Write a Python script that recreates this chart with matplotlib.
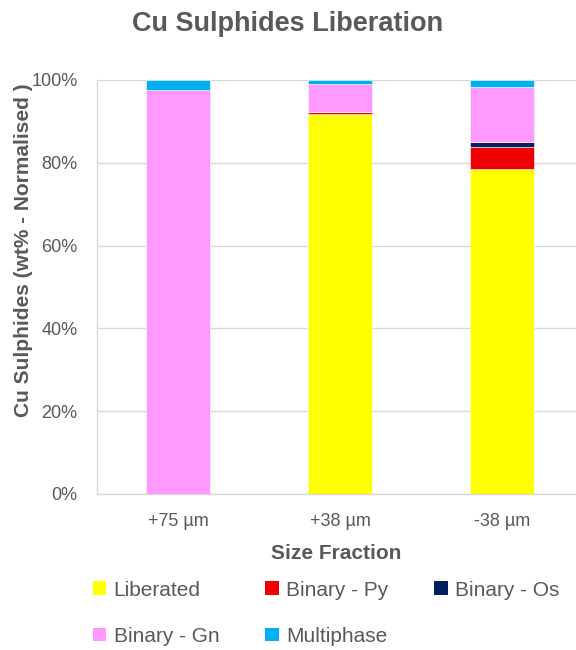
import numpy as np
import matplotlib.pyplot as plt
from matplotlib.patches import Patch

plt.rcParams['font.family'] = ['Liberation Sans', 'DejaVu Sans']

# data (wt% normalised)
fractions = ['+75 µm', '+38 µm', '-38 µm']
liberated = [0.0, 91.7, 78.5]
binary_py = [0.0, 0.5, 5.4]
binary_os = [0.0, 0.0, 1.2]
binary_gn = [97.6, 6.8, 13.3]
multiphase = [2.4, 1.0, 1.6]

series = [('Liberated', liberated, '#FFFF00'),
          ('Binary - Py', binary_py, '#EE0000'),
          ('Binary - Os', binary_os, '#002060'),
          ('Binary - Gn', binary_gn, '#FF99FF'),
          ('Multiphase', multiphase, '#00B0F0')]

grey = '#595959'
fig = plt.figure(figsize=(5.76, 6.5), dpi=100)
ax = fig.add_axes([97/576, 1-494/650, 1-97/576, (494-80)/650])

x = np.arange(len(fractions))
bottom = np.zeros(len(fractions))
for name, vals, col in series:
    vals = np.array(vals)
    ax.bar(x, vals, 0.4, bottom=bottom, color=col, edgecolor='white', linewidth=0.4, zorder=3)
    bottom += vals

ax.set_xlim(-0.5, 2.457)
ax.set_ylim(0, 100)
ax.set_yticks(np.arange(0, 101, 20))
ax.set_yticklabels([f'{v}%' for v in range(0, 101, 20)])
ax.set_xticks(x)
ax.set_xticklabels(fractions)
ax.tick_params(length=0, labelsize=13, colors=grey)
ax.tick_params(axis='x', pad=14)
ax.tick_params(axis='y', pad=14)
ax.grid(axis='y', color='#D9D9D9', linewidth=1, zorder=0)
for s in ['top', 'right']:
    ax.spines[s].set_visible(False)
for s in ['left', 'bottom']:
    ax.spines[s].set_color('#D9D9D9')
    ax.spines[s].set_linewidth(1)

ax.set_ylabel('Cu Sulphides (wt% - Normalised )', fontsize=15, fontweight='bold', color=grey)
ax.yaxis.set_label_coords(-0.134, 0.59)
ax.set_xlabel('Size Fraction', fontsize=15, fontweight='bold', color=grey, labelpad=10)
fig.text(0.5, 1-24/650, 'Cu Sulphides Liberation', ha='center', va='center',
         fontsize=19.5, fontweight='bold', color=grey)

# excel fills the legend row by row, matplotlib column by column
order = [0, 3, 1, 4, 2]
handles = [Patch(facecolor=series[i][2], label=series[i][0]) for i in order]
fig.legend(handles=handles, ncol=3, loc='upper left', bbox_to_anchor=(74/576, 1-562/650),
           frameon=False, fontsize=15, labelcolor=grey, handlelength=0.65, handleheight=0.65,
           handletextpad=0.35, columnspacing=2.2, labelspacing=1.3)

fig.savefig('out.png', dpi=100)
